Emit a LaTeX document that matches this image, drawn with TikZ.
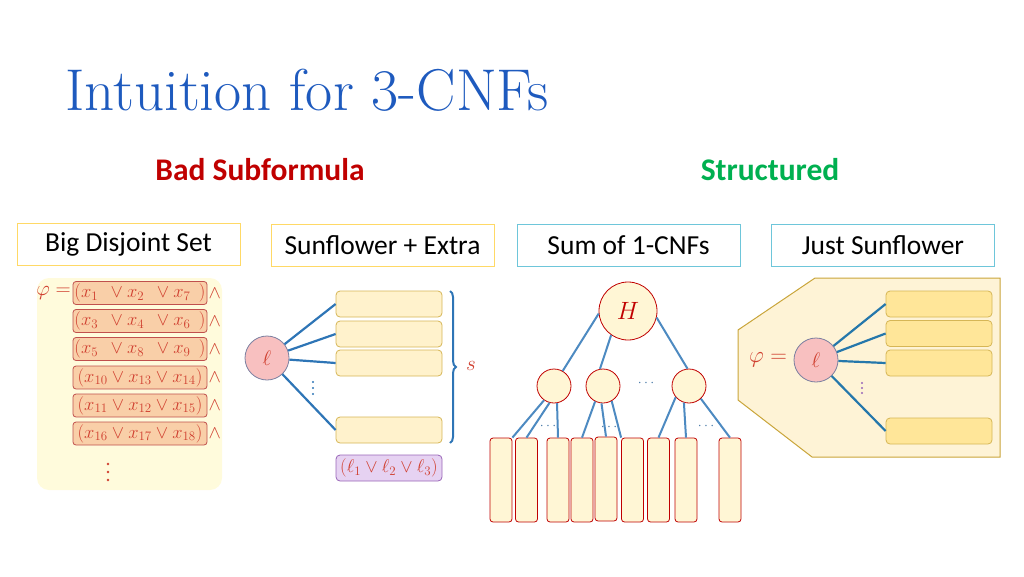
\RequirePackage{fix-cm}
\documentclass[tikz,border=0pt]{standalone}
\usepackage{fontspec}
\newfontfamily\calibri{Carlito}
\usetikzlibrary{decorations.pathreplacing}
\definecolor{titleblue}{RGB}{30,90,190}
\definecolor{badred}{RGB}{192,0,0}
\definecolor{goodgreen}{RGB}{0,176,80}
\definecolor{tagyellow}{RGB}{255,217,102}
\definecolor{tagblue}{RGB}{110,198,218}
\definecolor{paneltint}{RGB}{255,251,220}
\definecolor{clausefill}{RGB}{249,207,168}
\definecolor{clauseline}{RGB}{192,80,77}
\definecolor{mathred}{RGB}{208,64,48}
\definecolor{petalfill}{RGB}{255,242,204}
\definecolor{petalline}{RGB}{214,182,86}
\definecolor{budfill}{RGB}{248,192,192}
\definecolor{budline}{RGB}{122,127,160}
\definecolor{wireblue}{RGB}{46,117,182}
\definecolor{extrafill}{RGB}{230,210,242}
\definecolor{extraline}{RGB}{153,102,184}
\definecolor{creamfill}{RGB}{255,246,213}
\definecolor{hexfill}{RGB}{254,243,214}
\definecolor{hexline}{RGB}{201,165,58}
\definecolor{goldfill}{RGB}{255,230,153}
\begin{document}
\begin{tikzpicture}[x=1pt,y=-1pt,
    tag/.style={draw,line width=1pt,minimum width=223,minimum height=42,inner sep=2,font=\calibri\fontsize{27.5}{30}\selectfont},
    head/.style={font=\calibri\bfseries\fontsize{31.5}{34}\selectfont},
    clause/.style={draw=clauseline,fill=clausefill,rounded corners=3,line width=0.8pt,minimum width=134,minimum height=23,inner sep=0,text=mathred,font=\fontsize{18.5}{20}\selectfont},
    petal/.style={draw=petalline,fill=petalfill,rounded corners=4,line width=0.8pt,minimum width=106,minimum height=26},
    bud/.style={draw=budline,fill=budfill,circle,line width=0.8pt,minimum size=44,inner sep=0,text=mathred,font=\fontsize{21}{22}\selectfont},
    spoke/.style={draw=wireblue,line width=2.2pt},
    node1/.style={draw=badred,fill=creamfill,circle,line width=0.8pt,inner sep=0},
    leaf/.style={draw=badred,fill=creamfill,rounded corners=3,line width=0.8pt,minimum width=22,minimum height=84},
    wire/.style={draw=wireblue!85!white,line width=2pt},
    dotty/.style={text=wireblue!70!gray,font=\fontsize{14}{14}\selectfont}]
    \useasboundingbox (0,0) rectangle (1024,576);
    % title and headings
    \node[anchor=base west,inner sep=0,text=titleblue,font=\fontsize{59}{64}\selectfont] (title) at (65,110) {Intuition for 3-CNFs};
    \node[head,text=badred] (bad) at (260,170) {Bad Subformula};
    \node[head,text=goodgreen] (good) at (770,170) {Structured};
    \node[tag,draw=tagyellow] (big) at (128.5,244) {Big Disjoint Set};
    \node[tag,draw=tagyellow] (extra) at (382.5,245.5) {Sunflower + Extra};
    \node[tag,draw=tagblue] (sum) at (628.5,245.5) {Sum of 1-CNFs};
    \node[tag,draw=tagblue] (just) at (883,245.5) {Just Sunflower};
    % big disjoint set
    \fill[paneltint,rounded corners=12] (37,278) rectangle (222,490);
    \node[anchor=east,text=mathred,font=\fontsize{21}{22}\selectfont,inner sep=1] (phi1) at (72,293) {$\varphi =$};
    \node[clause] (c1) at (140,293) {$(x_1\phantom{0}\vee x_2\phantom{0}\vee x_7\phantom{0})$};
    \node[clause] (c2) at (140,321) {$(x_3\phantom{0}\vee x_4\phantom{0}\vee x_6\phantom{0})$};
    \node[clause] (c3) at (140,349) {$(x_5\phantom{0}\vee x_8\phantom{0}\vee x_9\phantom{0})$};
    \node[clause] (c4) at (140,377.5) {$(x_{10}\vee x_{13}\vee x_{14})$};
    \node[clause] (c5) at (140,405.5) {$(x_{11}\vee x_{12}\vee x_{15})$};
    \node[clause] (c6) at (140,433.5) {$(x_{16}\vee x_{17}\vee x_{18})$};
    \node[anchor=west,inner sep=1,text=mathred,font=\fontsize{18.5}{20}\selectfont] (a1) at (c1.east) {$\wedge$};
    \node[anchor=west,inner sep=1,text=mathred,font=\fontsize{18.5}{20}\selectfont] (a2) at (c2.east) {$\wedge$};
    \node[anchor=west,inner sep=1,text=mathred,font=\fontsize{18.5}{20}\selectfont] (a3) at (c3.east) {$\wedge$};
    \node[anchor=west,inner sep=1,text=mathred,font=\fontsize{18.5}{20}\selectfont] (a4) at (c4.east) {$\wedge$};
    \node[anchor=west,inner sep=1,text=mathred,font=\fontsize{18.5}{20}\selectfont] (a5) at (c5.east) {$\wedge$};
    \node[anchor=west,inner sep=1,text=mathred,font=\fontsize{18.5}{20}\selectfont] (a6) at (c6.east) {$\wedge$};
    \fill[mathred] (108,464) circle (1.4);
    \fill[mathred] (108,472) circle (1.4);
    \fill[mathred] (108,480) circle (1.4);
    % sunflower + extra
    \node[bud] (l1) at (267,358) {$\ell$};
    \node[petal] (p1) at (389,304) {};
    \node[petal] (p2) at (389,334) {};
    \node[petal] (p3) at (389,363) {};
    \node[petal] (p4) at (389,430) {};
    \draw[spoke] (l1) -- (p1.west);
    \draw[spoke] (l1) -- (p2.west);
    \draw[spoke] (l1) -- (p3.west);
    \draw[spoke] (l1) -- (p4.west);
    \fill[wireblue] (313,382) circle (1.1);
    \fill[wireblue] (313,388) circle (1.1);
    \fill[wireblue] (313,394) circle (1.1);
    \draw[wireblue,line width=2pt,decorate,decoration={brace,amplitude=6pt}] (450,291) -- (450,443);
    \node[text=mathred,font=\fontsize{21}{22}\selectfont] (s) at (471,366) {$s$};
    \node[draw=extraline,fill=extrafill,rounded corners=4,line width=0.8pt,minimum width=106,minimum height=26,inner sep=0,text=mathred,font=\fontsize{18.5}{20}\selectfont] (ex) at (389,468) {$(\ell_1\vee\ell_2\vee\ell_3)$};
    % sum of 1-cnfs
    \node[node1,minimum size=58,text=badred,font=\fontsize{25}{26}\selectfont] (H) at (628,311) {$H$};
    \node[node1,minimum size=34] (m1) at (554,386) {};
    \node[node1,minimum size=34] (m2) at (603,386) {};
    \node[node1,minimum size=34] (m3) at (689,386) {};
    \node[dotty] (d0) at (646,383) {$\cdots$};
    \node[leaf] (r1) at (501,480) {};
    \node[leaf] (r2) at (526.5,480) {};
    \node[leaf] (r3) at (558,480) {};
    \node[leaf] (r4) at (582,480) {};
    \node[leaf] (r5) at (606,479) {};
    \node[leaf] (r6) at (632.5,480) {};
    \node[leaf] (r7) at (658.5,480) {};
    \node[leaf] (r8) at (686,480) {};
    \node[leaf] (r9) at (730,480) {};
    \draw[wire] (H.185) -- (m1.60);
    \draw[wire] (H.235) -- (m2.100);
    \draw[wire] (H.-13) -- (m3.95);
    \draw[wire] (m1.235) -- (r1.north east);
    \draw[wire] (m1.255) -- (r2.north);
    \draw[wire] (m1.280) -- (r3.north);
    \draw[wire] (m2.243) -- (r4.north);
    \draw[wire] (m2.265) -- (r5.north);
    \draw[wire] (m2.300) -- (r6.north west);
    \draw[wire] (m3.220) -- (r7.north);
    \draw[wire] (m3.253) -- (r8.north);
    \draw[wire] (m3.313) -- (r9.north);
    \node[dotty] (d1) at (548,426) {$\cdots$};
    \node[dotty] (d2) at (609,427) {$\cdots$};
    \node[dotty] (d3) at (706,426) {$\cdots$};
    % just sunflower
    \draw[hexline,fill=hexfill,line width=1pt] (815,278) -- (1000,278) -- (1000,457) -- (812,457) -- (738,400) -- (738,330) -- cycle;
    \node[text=mathred,font=\fontsize{23}{24}\selectfont] (phi2) at (768,360) {$\varphi =$};
    \node[bud] (l2) at (816,360) {$\ell$};
    \node[petal,fill=goldfill] (q1) at (939,304) {};
    \node[petal,fill=goldfill] (q2) at (939,333.5) {};
    \node[petal,fill=goldfill] (q3) at (939,363) {};
    \node[petal,fill=goldfill] (q4) at (939,431) {};
    \draw[spoke,draw=wireblue!80!teal] (l2) -- (q1.west);
    \draw[spoke,draw=wireblue!80!teal] (l2) -- (q2.west);
    \draw[spoke,draw=wireblue!80!teal] (l2) -- (q3.west);
    \draw[spoke,draw=wireblue!80!teal] (l2) -- (q4.west);
    \fill[extraline] (862,383) circle (1.1);
    \fill[extraline] (862,388) circle (1.1);
    \fill[extraline] (862,393) circle (1.1);
\end{tikzpicture}
\end{document}
